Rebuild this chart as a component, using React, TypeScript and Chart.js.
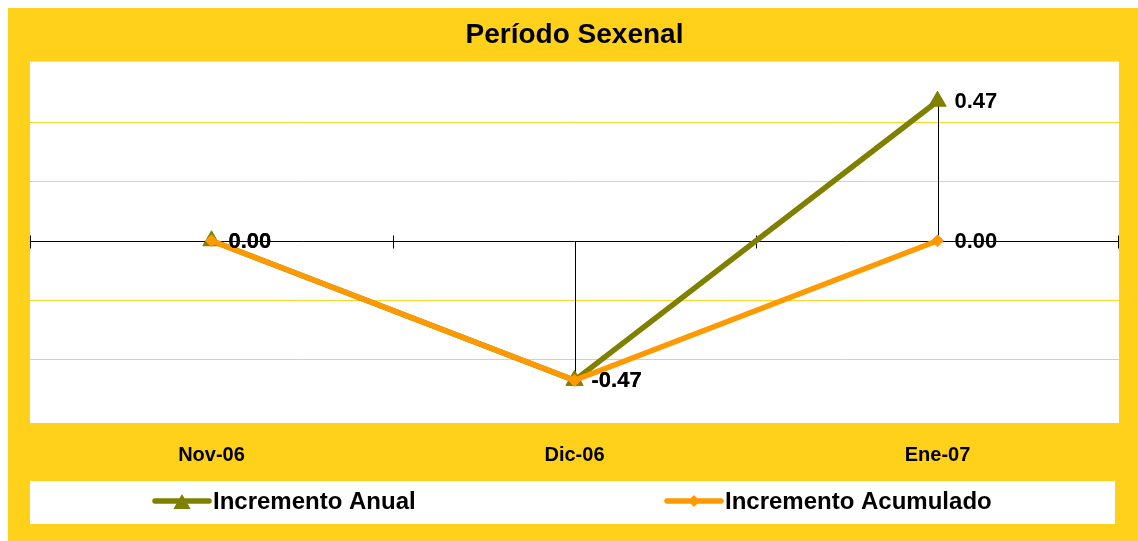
import React, { useEffect, useRef } from 'react';
import { Chart, registerables } from 'chart.js';

Chart.register(...registerables);

// ---- data ----
const categories = ['Nov-06', 'Dic-06', 'Ene-07'];
const incrementoAnual = [0.0, -0.47, 0.47];
const incrementoAcumulado = [0.0, -0.47, 0.0];
const seriesLabels = ['Incremento Anual', 'Incremento Acumulado'];
const yMin = -0.6;
const yMax = 0.6;
const yStep = 0.2;
const titleText = 'Período Sexenal';

// ---- style ----
const W = 1130;
const H = 533;
const YELLOW = '#FFD11A';
const GRID = '#FFD52E';
const OLIVE = '#808000';
const ORANGE = '#FF9900';
const FONT = "'Liberation Sans', Arial, Helvetica, sans-serif";

const legendItems = [
  { x: 147, color: OLIVE, marker: 'triangle' },
  { x: 659, color: ORANGE, marker: 'diamond' },
];

const decorPlugin = {
  id: 'decor',
  beforeDraw(chart: any) {
    const { ctx, chartArea: a } = chart;
    ctx.save();
    ctx.fillStyle = YELLOW;
    ctx.fillRect(0, 0, chart.width, chart.height);
    ctx.fillStyle = '#ffffff';
    ctx.fillRect(a.left, a.top - 1, a.right - a.left, a.bottom - a.top + 5);
    ctx.fillRect(22, 473, 1085, 43);
    ctx.restore();
  },
  beforeDatasetsDraw(chart: any) {
    const { ctx, chartArea: a, scales } = chart;
    const y0 = Math.round(scales.y.getPixelForValue(0)) + 0.5;
    ctx.save();
    ctx.strokeStyle = '#000';
    ctx.lineWidth = 1;
    ctx.beginPath();
    ctx.moveTo(a.left, y0);
    ctx.lineTo(a.right, y0);
    const n = categories.length;
    const step = (a.right - a.left) / n;
    for (let i = 0; i <= n; i++) {
      const x = Math.round(a.left + i * step) + (i === n ? -0.5 : 0.5);
      ctx.moveTo(x, y0 - 6);
      ctx.lineTo(x, y0 + 7);
    }
    categories.forEach((_, i) => {
      const vals = chart.data.datasets.map((d: any) => d.data[i] as number);
      const ext = vals.reduce((m: number, v: number) => (Math.abs(v) > Math.abs(m) ? v : m), 0);
      if (ext !== 0) {
        const x = Math.round(scales.x.getPixelForValue(i)) + 0.5;
        ctx.moveTo(x, y0);
        ctx.lineTo(x, scales.y.getPixelForValue(ext));
      }
    });
    ctx.stroke();
    ctx.restore();
  },
  afterDatasetsDraw(chart: any) {
    const { ctx } = chart;
    ctx.save();
    ctx.font = `bold 22px ${FONT}`;
    ctx.fillStyle = '#000';
    ctx.textAlign = 'left';
    ctx.textBaseline = 'middle';
    chart.data.datasets.forEach((ds: any, di: number) => {
      const meta = chart.getDatasetMeta(di);
      meta.data.forEach((pt: any, i: number) => {
        ctx.fillText((ds.data[i] as number).toFixed(2), pt.x + 17, pt.y + 1);
      });
    });
    ctx.restore();
  },
  afterDraw(chart: any) {
    const { ctx } = chart;
    const cy = 493;
    ctx.save();
    legendItems.forEach((it, i) => {
      ctx.strokeStyle = it.color;
      ctx.lineWidth = 5.5;
      ctx.lineCap = 'round';
      ctx.beginPath();
      ctx.moveTo(it.x, cy);
      ctx.lineTo(it.x + 54, cy);
      ctx.stroke();
      const cx = it.x + 27;
      ctx.fillStyle = it.color;
      ctx.beginPath();
      if (it.marker === 'triangle') {
        const r = 10;
        const ty = cy + 3;
        ctx.moveTo(cx, ty - r);
        ctx.lineTo(cx + r * Math.sin(Math.PI / 3), ty + r / 2);
        ctx.lineTo(cx - r * Math.sin(Math.PI / 3), ty + r / 2);
      } else {
        const r = 6;
        ctx.moveTo(cx, cy - r);
        ctx.lineTo(cx + r, cy);
        ctx.lineTo(cx, cy + r);
        ctx.lineTo(cx - r, cy);
      }
      ctx.closePath();
      ctx.fill();
      ctx.font = `bold 24px ${FONT}`;
      ctx.fillStyle = '#000';
      ctx.textAlign = 'left';
      ctx.textBaseline = 'middle';
      ctx.fillText(seriesLabels[i], it.x + 58, cy + 1);
    });
    ctx.restore();
  },
};

export default function App() {
  const ref = useRef<HTMLCanvasElement | null>(null);

  useEffect(() => {
    document.body.style.margin = '0';
    document.documentElement.style.overflow = 'hidden';
    if (!ref.current) return;
    const chart = new Chart(ref.current, {
      type: 'line',
      data: {
        labels: categories,
        datasets: [
          {
            label: seriesLabels[0],
            data: incrementoAnual,
            borderColor: OLIVE,
            backgroundColor: OLIVE,
            borderWidth: 5.5,
            pointStyle: 'triangle',
            pointRadius: 10,
            pointBorderWidth: 1,
            pointBackgroundColor: OLIVE,
            pointBorderColor: OLIVE,
            tension: 0,
            order: 1,
          },
          {
            label: seriesLabels[1],
            data: incrementoAcumulado,
            borderColor: ORANGE,
            backgroundColor: ORANGE,
            borderWidth: 5.5,
            pointStyle: 'rectRot',
            pointRadius: 6,
            pointBorderWidth: 1,
            pointBackgroundColor: ORANGE,
            pointBorderColor: ORANGE,
            tension: 0,
            order: 0,
          },
        ],
      },
      options: {
        animation: false,
        responsive: false,
        devicePixelRatio: 1,
        layout: { padding: { left: 22, right: 19, top: 0, bottom: 0 } },
        plugins: {
          legend: { display: false },
          tooltip: { enabled: false },
          title: {
            display: true,
            text: titleText,
            color: '#000',
            font: { family: FONT, size: 28, weight: 'bold' },
            padding: { top: 10, bottom: 11 },
          },
        },
        scales: {
          x: {
            type: 'category',
            offset: true,
            grid: { display: false, drawTicks: false },
            border: { display: false },
            ticks: {
              color: '#000',
              font: { family: FONT, size: 20, weight: 'bold' },
              padding: 24,
              maxRotation: 0,
            },
            afterFit(scale: any) {
              scale.height = 122;
            },
          },
          y: {
            min: yMin,
            max: yMax,
            ticks: { display: false, stepSize: yStep },
            border: { display: false },
            grid: {
              drawTicks: false,
              lineWidth: 1,
              color: (c: any) => {
                const v = c.tick?.value ?? 0;
                if (Math.abs(v) < 1e-9) return 'rgba(0,0,0,0)';
                if (Math.abs(v) > 0.59) return 'rgba(0,0,0,0)';
                return GRID;
              },
            },
            afterFit(scale: any) {
              scale.width = 0;
            },
          },
        },
      },
      plugins: [decorPlugin],
    });
    return () => chart.destroy();
  }, []);

  return (
    <div style={{ width: W + 8, height: H + 8, paddingLeft: 8, paddingTop: 8, boxSizing: 'border-box', background: '#fff' }}>
      <canvas ref={ref} width={W} height={H} style={{ display: 'block', width: W, height: H }} />
    </div>
  );
}
